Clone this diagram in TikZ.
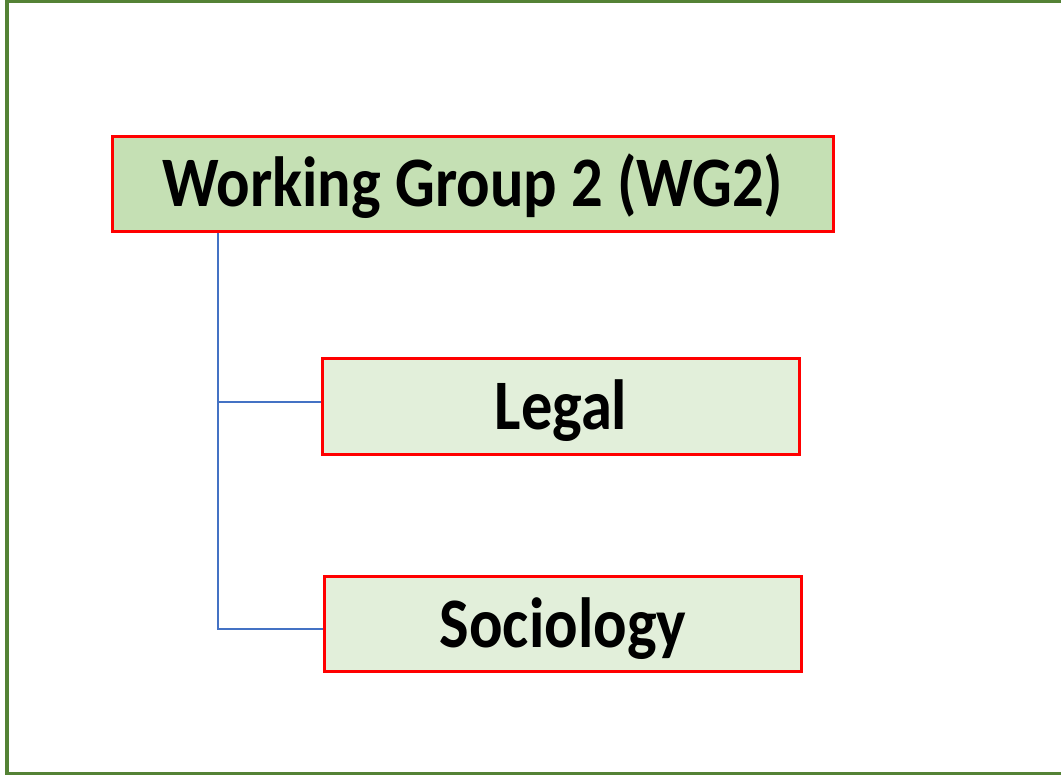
\documentclass[tikz,border=0pt]{standalone}
\usepackage{fontspec}
\usepackage{graphicx}
\setmainfont{Carlito}
\newcommand{\narrowtext}[1]{\scalebox{0.88}[1]{#1}}
\definecolor{framegreen}{RGB}{84,130,53}
\definecolor{boxred}{RGB}{255,0,0}
\definecolor{topfill}{RGB}{197,224,180}
\definecolor{subfill}{RGB}{226,239,218}
\definecolor{connblue}{RGB}{68,114,196}
\tikzset{
  box/.style={draw=boxred, line width=3pt, rectangle, inner sep=0pt,
    font=\fontsize{71}{80}\selectfont\bfseries, text height=46pt, text depth=0pt},
  topbox/.style={box, fill=topfill},
  subbox/.style={box, fill=subfill},
  conn/.style={draw=connblue, line width=1.4pt},
}
\begin{document}
\begin{tikzpicture}[x=1pt,y=-1pt]
\useasboundingbox (0,0) rectangle (1061,775);
\fill[white] (0,0) rectangle (1061,775);
\begin{scope}
\clip (0,0) rectangle (1061,775);
\draw[framegreen, line width=4pt] (7,1.5) rectangle (1080,773.5);
\end{scope}
\node[topbox, minimum width=721pt, minimum height=95pt] (wg2) at (473,184) {\narrowtext{Working Group 2 (WG2)}};
\node[subbox, minimum width=477pt, minimum height=96pt] (legal) at (561,406.5) {\narrowtext{Legal}};
\node[subbox, minimum width=477pt, minimum height=95pt] (socio) at (563,624) {\narrowtext{Sociology}};
\coordinate (trunk) at (218,0);
\draw[conn] (trunk |- wg2.south) |- ([yshift=4.5pt]legal.west);
\draw[conn] (trunk |- wg2.south) |- ([yshift=-5pt]socio.west);
\end{tikzpicture}
\end{document}
